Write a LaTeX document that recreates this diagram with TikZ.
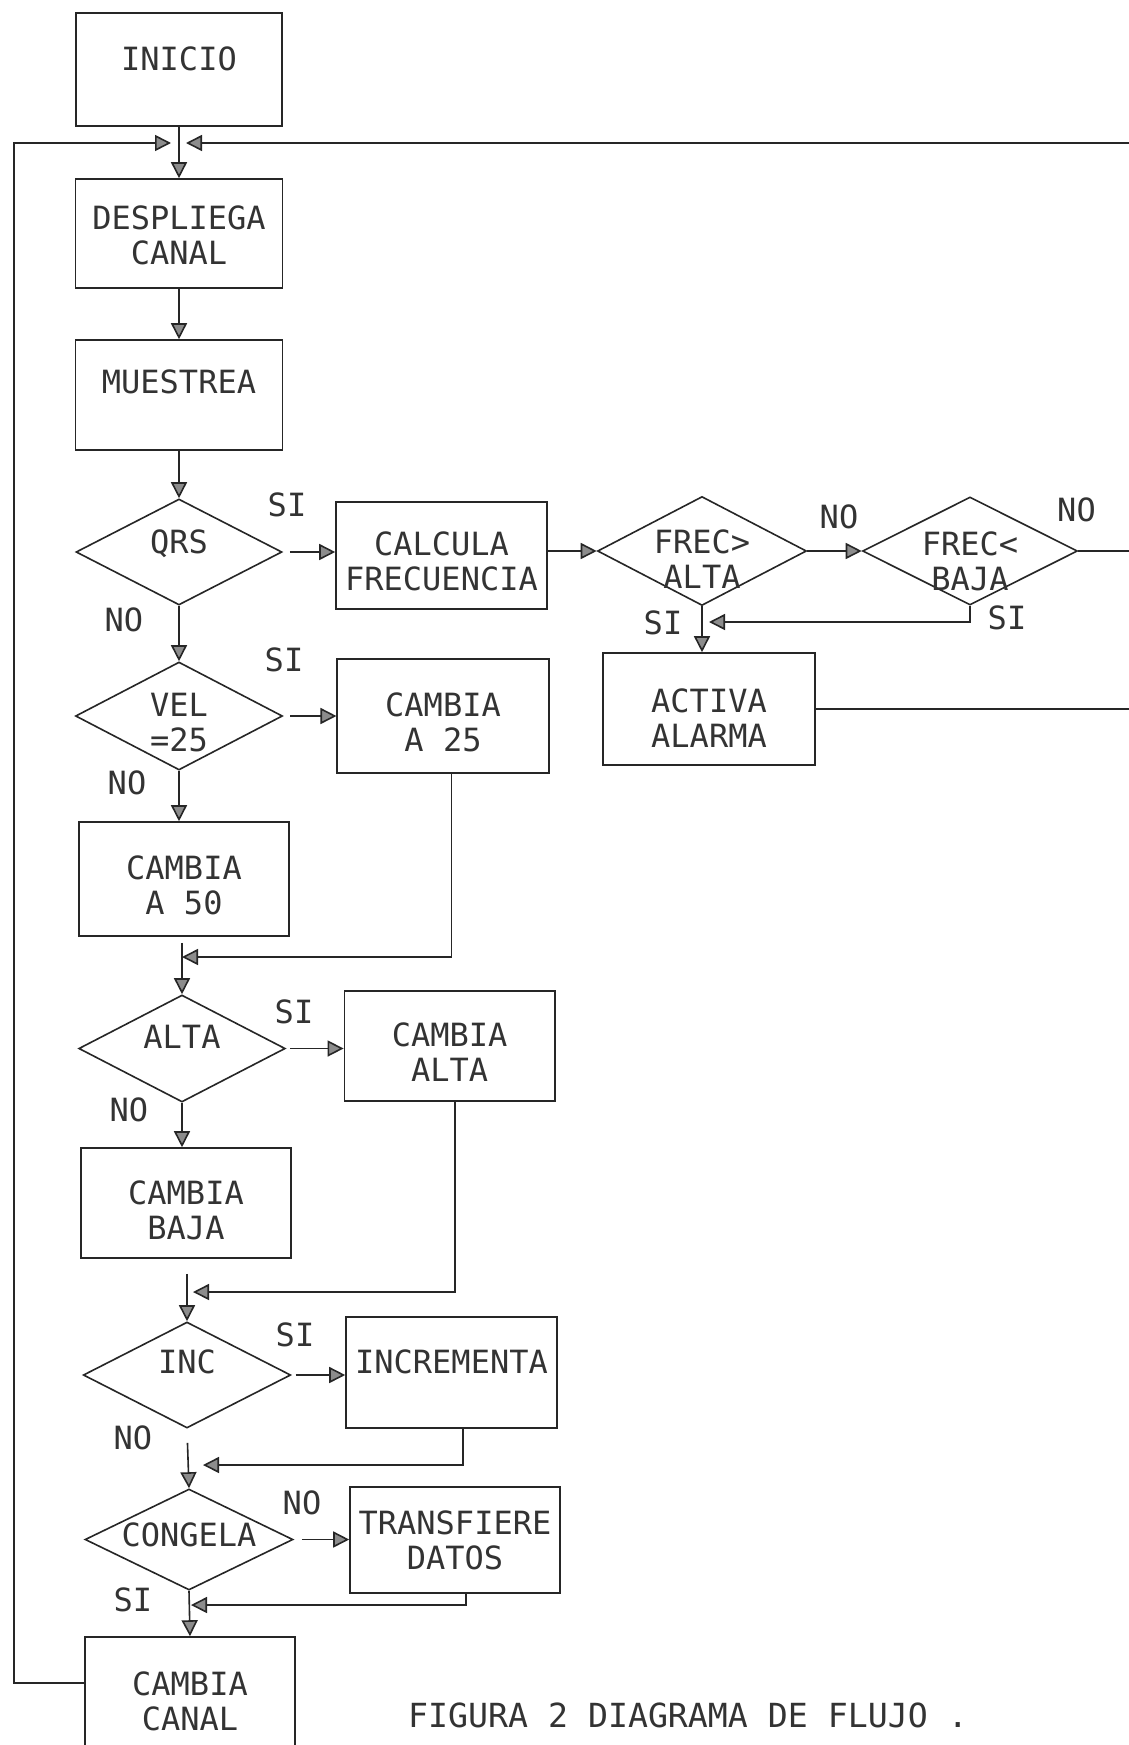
\documentclass[tikz,border=0pt]{standalone}
\usepackage{fontspec}
\setmainfont{DejaVu Sans Mono}
\usetikzlibrary{arrows.meta,shapes.geometric}
\newcommand\fnt{\fontsize{16pt}{17.5pt}\selectfont}
\newcommand\one[2]{\raisebox{#1}[0pt][0pt]{\makebox[0pt]{#2}}}
\newcommand\two[3]{\raisebox{#1}[0pt][0pt]{\makebox[0pt]{\begin{tabular}[b]{@{}c@{}}#2\\#3\end{tabular}}}}
\tikzset{
  box/.style={draw=black!85, rectangle, inner sep=0pt, font=\fnt, text=black!80},
  dia/.style={draw=black!85, diamond, aspect=2, inner sep=0pt, font=\fnt, text=black!80},
  lbl/.style={inner sep=0pt, font=\fnt, text=black!80},
  ln/.style={draw=black!85},
  arr/.style={-{Triangle[length=8pt,width=8pt,fill=black!45]}}
}
\begin{document}
\begin{tikzpicture}[x=0.5pt, y=-0.5pt, line width=0.8pt]
\useasboundingbox (0,0) rectangle (1129,1745);
\fill[white] (0,0) rectangle (1129,1745);
\clip (0,0) rectangle (1129,1745);

% nodes
\node[box, minimum width=103pt, minimum height=56.5pt] (ini) at (179,69.5) {\one{-0.6pt}{INICIO}};
\node[box, minimum width=103.5pt, minimum height=54.5pt] (desp) at (179,233.5) {\two{-15.6pt}{DESPLIEGA}{CANAL}};
\node[box, minimum width=103.5pt, minimum height=55pt] (mues) at (179,395) {\one{0.7pt}{MUESTREA}};
\node[dia, minimum width=103pt, minimum height=53pt] (qrs) at (179,552) {\one{-0.8pt}{QRS}};
\node[dia, minimum width=103.5pt, minimum height=54pt] (vel) at (179,716) {\two{-17.8pt}{VEL}{=25}};
\node[box, minimum width=105.5pt, minimum height=53.5pt] (calc) at (441.5,555.5) {\two{-17.6pt}{CALCULA}{FRECUENCIA}};
\node[box, minimum width=105.75pt, minimum height=57pt] (a25) at (443,716) {\two{-17.8pt}{CAMBIA}{A 25}};
\node[dia, minimum width=104.5pt, minimum height=54.5pt] (fa) at (702,551) {\two{-18.8pt}{FREC>}{ALTA}};
\node[dia, minimum width=107.5pt, minimum height=54pt] (fb) at (970,551) {\two{-19.8pt}{FREC<}{BAJA}};
\node[box, minimum width=105.75pt, minimum height=56pt] (act) at (709,709) {\two{-19.3pt}{ACTIVA}{ALARMA}};
\node[box, minimum width=105pt, minimum height=57pt] (a50) at (184,879) {\two{-17.8pt}{CAMBIA}{A 50}};
\node[dia, minimum width=103.25pt, minimum height=53.5pt] (alta) at (182,1048.5) {\one{-0.1pt}{ALTA}};
\node[box, minimum width=105.3pt, minimum height=55pt] (calta) at (449.7,1046) {\two{-17.8pt}{CAMBIA}{ALTA}};
\node[box, minimum width=105pt, minimum height=55pt] (baja) at (186,1203) {\two{-18.3pt}{CAMBIA}{BAJA}};
\node[dia, minimum width=103.75pt, minimum height=53pt] (inc) at (187,1375) {\one{0.7pt}{INC}};
\node[box, minimum width=105.5pt, minimum height=55.5pt] (incr) at (451.5,1372.5) {\one{-0.6pt}{INCREMENTA}};
\node[dia, minimum width=104pt, minimum height=50.5pt] (cong) at (189,1539.5) {\one{-3.6pt}{CONGELA}};
\node[box, minimum width=105pt, minimum height=53pt] (trans) at (455,1540) {\two{-14.8pt}{TRANSFIERE}{DATOS}};
\node[box, minimum width=105pt, minimum height=63pt] (canal) at (190,1700) {\two{-15.1pt}{CAMBIA}{CANAL}};

% labels
\node[lbl] (lqsi) at (287,505) {SI};
\node[lbl] (lqno) at (124,620) {NO};
\node[lbl] (lvsi) at (284,660) {SI};
\node[lbl] (lvno) at (127,783) {NO};
\node[lbl] (lfano) at (839,517) {NO};
\node[lbl] (lfasi) at (663,623) {SI};
\node[lbl] (lfbno) at (1076.5,510) {NO};
\node[lbl] (lfbsi) at (1007,618) {SI};
\node[lbl] (lasi) at (294,1012) {SI};
\node[lbl] (lano) at (129,1110) {NO};
\node[lbl] (lisi) at (295,1335) {SI};
\node[lbl] (lino) at (133,1438) {NO};
\node[lbl] (lcno) at (302,1503) {NO};
\node[lbl] (lcsi) at (133,1600) {SI};
\node[lbl, font=\fontsize{16.6pt}{18pt}\selectfont] (cap) at (688,1715) {FIGURA 2 DIAGRAMA DE FLUJO .};

% junctions and page-edge ends
\coordinate (j0) at (179,143);
\coordinate (lc) at (14,143);
\coordinate (e0) at (1129,143);
\coordinate (e1) at (1129,551);
\coordinate (e2) at (1129,713);
\coordinate (jf) at (702,622);
\coordinate (j1) at (182,957);
\coordinate (j2) at (187,1292);
\coordinate (j3) at (187,1465);
\coordinate (j4) at (187,1605);

% main column
\draw[ln,arr] (ini.south) -- (desp.north);
\draw[ln,arr,shorten >=4pt] ([yshift=8.5pt]canal.west) -| (lc) -- (j0);
\draw[ln,arr,shorten >=3.5pt] (e0) -- (j0);
\draw[ln,arr] (desp.south) -- (mues.north);
\draw[ln,arr] (mues.south) -- (qrs.north);
\draw[ln,arr] (qrs.south) -- (vel.north);
\draw[ln,arr] (vel.south) -- (vel.south |- a50.north);
\draw[ln,arr,shorten <=3pt] (alta.north |- a50.south) -- (alta.north);
\draw[ln,arr] (alta.south) -- (alta.south |- baja.north);
\draw[ln,arr,shorten <=7.5pt] (inc.north |- baja.south) -- (inc.north);
\draw[ln,arr,shorten <=7pt] (inc.south) -- (cong.north);
\draw[ln,arr] (cong.south) -- (canal.north);

% branches
\draw[ln,arr,shorten <=3.5pt] (qrs.east) -- (qrs.east -| calc.west);
\draw[ln,arr,shorten <=3.5pt] (vel.east) -- (vel.east -| a25.west);
\draw[ln,arr] (fa.west -| calc.east) -- (fa.west);
\draw[ln,arr] (fa.east) -- (fb.west);
\draw[ln] (fb.east) -- (e1);
\draw[ln,arr] (fa.south) -- (fa.south |- act.north);
\draw[ln,arr,shorten >=3.5pt] (fb.south) |- (jf);
\draw[ln] (act.east) -- (act.east -| e2);
\draw[ln,arr] ([xshift=4.3pt]a25.south) |- (j1);
\draw[ln,arr,shorten <=2pt] (alta.east) -- (alta.east -| calta.west);
\draw[ln,arr,shorten >=3pt] ([xshift=2.5pt]calta.south) |- (j2);
\draw[ln,arr,shorten <=2pt] (inc.east) -- (inc.east -| incr.west);
\draw[ln,arr,shorten >=8pt] ([xshift=5.75pt]incr.south) |- (j3);
\draw[ln,arr,shorten <=4pt] (cong.east) -- (cong.east -| trans.west);
\draw[ln,arr,shorten >=2pt] ([xshift=5.5pt]trans.south) |- (j4);
\end{tikzpicture}
\end{document}
